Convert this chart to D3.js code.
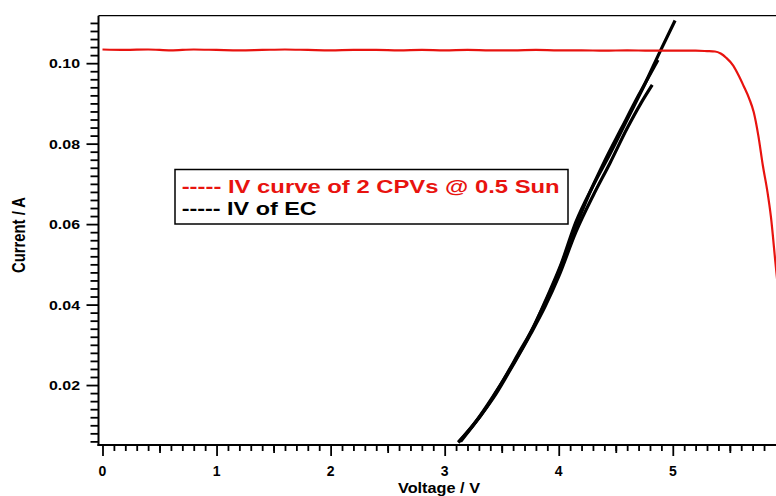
<!DOCTYPE html>
<html><head><meta charset="utf-8">
<script src="https://cdn.jsdelivr.net/npm/d3@7/dist/d3.min.js"></script>
<style>
html,body{margin:0;padding:0;background:#fff;overflow:hidden}
text{font-family:"Liberation Sans",Arial,sans-serif;font-weight:bold}
</style></head>
<body><svg id="c" width="776" height="496"></svg>
<script>
// ---- data ----
const pvVoltage = [0,0.2,0.4,0.6,0.8,1.0,1.2,1.4,1.6,1.8,2.0,2.2,2.4,2.6,2.8,3.0,3.2,3.4,3.6,3.8,4.0,4.2,4.4,4.6,4.8,5.0,5.2,5.3,5.37,5.42,5.47,5.53,5.58,5.62,5.67,5.71,5.75,5.79,5.83,5.86,5.90,5.94];
const pvCurrent = [0.1034,0.1033,0.1034,0.1032,0.1034,0.1033,0.1032,0.1033,0.1034,0.1033,0.1032,0.1033,0.1033,0.1032,0.1033,0.1032,0.1033,0.1032,0.1032,0.1033,0.1032,0.1032,0.1031,0.1032,0.1031,0.1031,0.1031,0.1030,0.1029,0.1024,0.1013,0.0994,0.0968,0.0944,0.0912,0.0878,0.0820,0.0745,0.0680,0.0619,0.0504,0.0390];

const ecVoltage1 = [3.12,3.25,3.37,3.52,3.65,3.78,3.90,4.02,4.15,4.30,4.45,4.60,4.75,4.89,5.02];
const ecCurrent1 = [0.0057,0.0100,0.0146,0.0215,0.0280,0.0345,0.0420,0.0500,0.0605,0.0695,0.0775,0.0860,0.0945,0.1030,0.1106];
const ecVoltage2 = [3.14,3.30,3.45,3.60,3.75,3.88,4.00,4.15,4.30,4.45,4.60,4.72,4.82];
const ecCurrent2 = [0.0060,0.0118,0.0178,0.0250,0.0325,0.0395,0.0470,0.0580,0.0670,0.0752,0.0838,0.0900,0.0946];
const ecVoltage3 = [3.12,3.28,3.42,3.57,3.72,3.86,4.00,4.12,4.26,4.40,4.55,4.70,4.80,4.87];
const ecCurrent3 = [0.0058,0.0112,0.0170,0.0238,0.0312,0.0392,0.0482,0.0572,0.0670,0.0755,0.0838,0.0920,0.0972,0.1008];

const xMajorTicks = [0,1,2,3,4,5];
const yMajorTicks = [0.02,0.04,0.06,0.08,0.10];
const yTickLabels = ["0.02","0.04","0.06","0.08","0.10"];
const legendLabels = ["----- IV curve of 2 CPVs @ 0.5 Sun","----- IV of EC"];
const xTitle = "Voltage / V";
const yTitle = "Current / A";

// ---- layout ----
const svg = d3.select("#c");
const L = 98.5, T = 15.7, B = 445, R = 780;
const x = d3.scaleLinear().domain([-0.035, 5.94]).range([L, R]);
const y = d3.scaleLinear().domain([0.0051, 0.1118]).range([B, T]);

svg.append("defs").append("clipPath").attr("id","clip")
  .append("rect").attr("x",L).attr("y",T).attr("width",R-L).attr("height",B-T);

// frame
svg.append("line").attr("x1",L).attr("x2",R).attr("y1",T).attr("y2",T).attr("stroke","#000").attr("stroke-width",1.3);

// x axis
const xMinor = d3.range(0, 59).map(i => i/10).filter(v => Math.abs(v - Math.round(v)) > 1e-6);
const xAxisMinor = d3.axisBottom(x).tickValues(xMinor).tickSize(6).tickFormat("");
const xMid = [0.5,1.5,2.5,3.5,4.5,5.5];
const xAxisMid = d3.axisBottom(x).tickValues(xMid).tickSize(8).tickFormat("");
const xAxisMajor = d3.axisBottom(x).tickValues(xMajorTicks).tickSize(11).tickFormat("");
[xAxisMinor, xAxisMid, xAxisMajor].forEach(a => {
  const g = svg.append("g").attr("transform",`translate(0,${B})`).call(a);
  g.select(".domain").remove();
  g.selectAll("line").attr("stroke","#000").attr("stroke-width",1.8);
});
svg.append("line").attr("x1",L-1).attr("x2",R).attr("y1",B).attr("y2",B).attr("stroke","#000").attr("stroke-width",2);
svg.append("g").selectAll("text").data(xMajorTicks).join("text")
  .attr("x", d => x(d)).attr("y", 475.5).attr("text-anchor","middle")
  .attr("font-size", 14).attr("fill","#000").text(d => d);

// y axis
const yMinor = d3.range(3, 56).map(i => +(i*0.002).toFixed(3)).filter(v => Math.abs(v*50 - Math.round(v*50)) > 1e-6);
const yAxisMinor = d3.axisLeft(y).tickValues(yMinor).tickSize(8).tickFormat("");
const yAxisMajor = d3.axisLeft(y).tickValues(yMajorTicks).tickSize(12).tickFormat("");
[yAxisMinor, yAxisMajor].forEach(a => {
  const g = svg.append("g").attr("transform",`translate(${L},0)`).call(a);
  g.select(".domain").remove();
  g.selectAll("line").attr("stroke","#000").attr("stroke-width",1.8);
});
svg.append("line").attr("x1",L).attr("x2",L).attr("y1",T).attr("y2",B+1).attr("stroke","#000").attr("stroke-width",2);
svg.append("g").selectAll("text").data(yMajorTicks).join("text")
  .attr("x", 80).attr("y", d => y(d) + 5).attr("text-anchor","end")
  .attr("font-size", 13).attr("fill","#000")
  .attr("textLength", 31).attr("lengthAdjust","spacingAndGlyphs")
  .text((d,i) => yTickLabels[i]);

// titles
svg.append("text").attr("x", 439).attr("y", 492.5).attr("text-anchor","middle")
  .attr("font-size", 15).attr("textLength", 82).attr("lengthAdjust","spacingAndGlyphs").text(xTitle);
svg.append("text").attr("transform","translate(25,235) scale(1.27,1) rotate(-90)")
  .attr("text-anchor","middle").attr("font-size", 14)
  .attr("textLength", 76).attr("lengthAdjust","spacingAndGlyphs").text(yTitle);

// data lines
const plot = svg.append("g").attr("clip-path","url(#clip)");
const line = d3.line().x(d => x(d[0])).y(d => y(d[1])).curve(d3.curveMonotoneX);
const pvData = pvVoltage.map((v,i) => [v, pvCurrent[i]]);
const ecSets = [[ecVoltage2, ecCurrent2],[ecVoltage3, ecCurrent3],[ecVoltage1, ecCurrent1]]
  .map(([vs, cs]) => vs.map((v,i) => [v, cs[i]]));
ecSets.forEach(d => plot.append("path").datum(d).attr("d", line)
  .attr("fill","none").attr("stroke","#000").attr("stroke-width",3.2).attr("stroke-linejoin","round"));
plot.append("path").datum(pvData).attr("d", line)
  .attr("fill","none").attr("stroke","#e8130f").attr("stroke-width",2.2);

// legend
const lg = svg.append("g");
lg.append("rect").attr("x",175).attr("y",169.5).attr("width",393).attr("height",54.5)
  .attr("fill","#fff").attr("stroke","#000").attr("stroke-width",1.5);
lg.append("text").attr("x",181.7).attr("y",192.5).attr("font-size",17.5).attr("fill","#e8130f")
  .attr("textLength",378).attr("lengthAdjust","spacingAndGlyphs").text(legendLabels[0]);
lg.append("text").attr("x",181.7).attr("y",215).attr("font-size",17.5).attr("fill","#000")
  .attr("textLength",135).attr("lengthAdjust","spacingAndGlyphs").text(legendLabels[1]);
</script></body></html>
